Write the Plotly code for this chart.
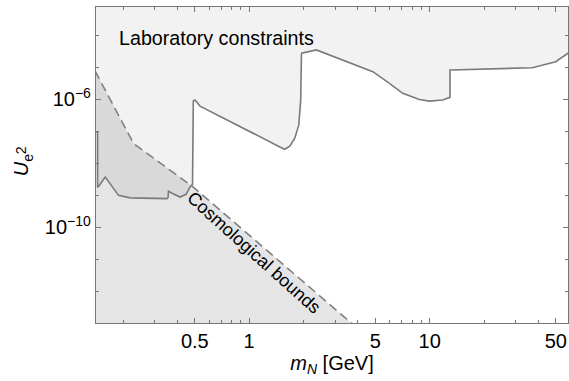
import plotly.graph_objects as go
import math

# ---------------- data ----------------
# Laboratory constraints: lower boundary of the excluded (upper) region
lab_mass = [0.14, 0.1446, 0.1446, 0.1479, 0.1595, 0.1743, 0.1889, 0.219, 0.3497, 0.3554,
            0.357, 0.374, 0.414, 0.447, 0.470, 0.4855, 0.4905, 0.501, 0.534, 1.478,
            1.575, 1.679, 1.789, 1.882, 1.930, 1.948, 1.955, 2.357, 4.842, 5.99,
            7.094, 8.77, 9.96, 11.8, 12.96, 12.96, 13.18, 37.07, 49.9, 58.4, 62.0]
lab_U2 = [9.55e-8, 9.55e-8, 1.76e-9, 2.04e-9, 3.72e-9, 1.91e-9, 9.9e-10, 8.26e-10, 7.8e-10, 8.5e-10,
          1.32e-9, 1.15e-9, 8.75e-10, 1.07e-9, 1.80e-9, 2.19e-9, 9.0e-7, 9.55e-7, 6.17e-7, 3.25e-8,
          2.75e-8, 3.42e-8, 6.1e-8, 1.56e-7, 9.5e-7, 2.46e-5, 2.78e-5, 3.53e-5, 7.36e-6, 3.18e-6,
          1.55e-6, 9.86e-7, 8.85e-7, 9.55e-7, 1.16e-6, 8.32e-6, 8.32e-6, 9.8e-6, 1.51e-5, 2.78e-5, 3.5e-5]

# Cosmological bounds: upper boundary of the excluded (lower) region
cosmo_mass = [0.14, 0.2287, 0.4886, 3.68, 5.9]
cosmo_U2 = [7.8e-6, 4.16e-8, 1.83e-9, 1e-13, 1e-14]

# axis ticks
x_major = [0.5, 1, 5, 10, 50]
x_major_text = ["0.5", "1", "5", "10", "50"]
x_minor = [0.2, 0.3, 0.4, 0.6, 0.7, 0.8, 0.9, 2, 3, 4, 6, 7, 8, 9, 20, 30, 40]
y_major = [1e-6, 1e-10]
y_major_text = ["10<sup>\u22126</sup>", "10<sup>\u221210</sup>"]
y_minor = [1e-13, 1e-12, 1e-11, 1e-9, 1e-8, 1e-7, 1e-5, 1e-4]

X_RANGE = [0.1417, 58.4]
Y_RANGE = [1e-13, 7.8e-4]
Y_FAR_TOP = 1e-1
Y_FAR_BOTTOM = 1e-16

FONT = "Liberation Sans, Arial, sans-serif"

fig = go.Figure()

# laboratory fill
fig.add_trace(go.Scatter(
    x=lab_mass + [lab_mass[-1], lab_mass[0]],
    y=lab_U2 + [Y_FAR_TOP, Y_FAR_TOP],
    mode="lines", line=dict(width=0), fill="toself",
    fillcolor="rgba(0,0,0,0.052)", hoverinfo="skip", showlegend=False))

# cosmological fill
fig.add_trace(go.Scatter(
    x=cosmo_mass + [cosmo_mass[-1], cosmo_mass[0]],
    y=cosmo_U2 + [Y_FAR_BOTTOM, Y_FAR_BOTTOM],
    mode="lines", line=dict(width=0), fill="toself",
    fillcolor="rgba(0,0,0,0.10)", hoverinfo="skip", showlegend=False))

# boundary lines
fig.add_trace(go.Scatter(x=lab_mass, y=lab_U2, mode="lines",
                         line=dict(color="#7a7a7a", width=1.6), showlegend=False))
fig.add_trace(go.Scatter(x=cosmo_mass, y=cosmo_U2, mode="lines",
                         line=dict(color="#808080", width=1.6, dash="9px,5px"), showlegend=False))

fig.add_annotation(x=math.log10(0.186), y=math.log10(8.1e-5), xref="x", yref="y",
                   text="Laboratory constraints", showarrow=False, xanchor="left",
                   yanchor="middle", font=dict(family=FONT, size=19.7, color="black"))
fig.add_annotation(x=math.log10(1.07), y=math.log10(1.6e-11), xref="x", yref="y",
                   text="Cosmological bounds", showarrow=False, textangle=42,
                   font=dict(family=FONT, size=18, color="black"))
# superscript "2" of the y-axis title, stacked above the subscript "e"
fig.add_annotation(x=-0.181, y=0.545, xref="paper", yref="paper",
                   text="2", showarrow=False, textangle=-90,
                   font=dict(family=FONT, size=14, color="black"))

axis_common = dict(
    type="log", showgrid=False, zeroline=False, showline=True, linecolor="#777777",
    linewidth=1.3, mirror="ticks", ticks="inside", ticklen=5, tickwidth=1,
    tickcolor="#777777", tickfont=dict(family=FONT, size=20, color="black"),
)

fig.update_xaxes(**axis_common, range=[math.log10(X_RANGE[0]), math.log10(X_RANGE[1])],
                 tickmode="array", tickvals=x_major, ticktext=x_major_text,
                 minor=dict(tickmode="array", tickvals=x_minor, ticks="inside", ticklen=3,
                            tickcolor="#777777", showgrid=False),
                 title=dict(text="<i>m</i><sub><i>N</i></sub> [GeV]", standoff=3,
                            font=dict(family=FONT, size=20, color="black")))
fig.update_yaxes(**axis_common, range=[math.log10(Y_RANGE[0]), math.log10(Y_RANGE[1])],
                 tickmode="array", tickvals=y_major, ticktext=y_major_text,
                 minor=dict(tickmode="array", tickvals=y_minor, ticks="inside", ticklen=3,
                            tickcolor="#777777", showgrid=False),
                 title=dict(text="<i>U</i><sub>e</sub>", standoff=10,
                            font=dict(family=FONT, size=20, color="black")))

fig.update_layout(width=569, height=381, margin=dict(l=96, r=1, t=7, b=58),
                  paper_bgcolor="white", plot_bgcolor="white")

fig.write_html("out.html", config={"displayModeBar": False},
               post_script="document.body.style.margin='0px';document.body.style.overflow='hidden';")
